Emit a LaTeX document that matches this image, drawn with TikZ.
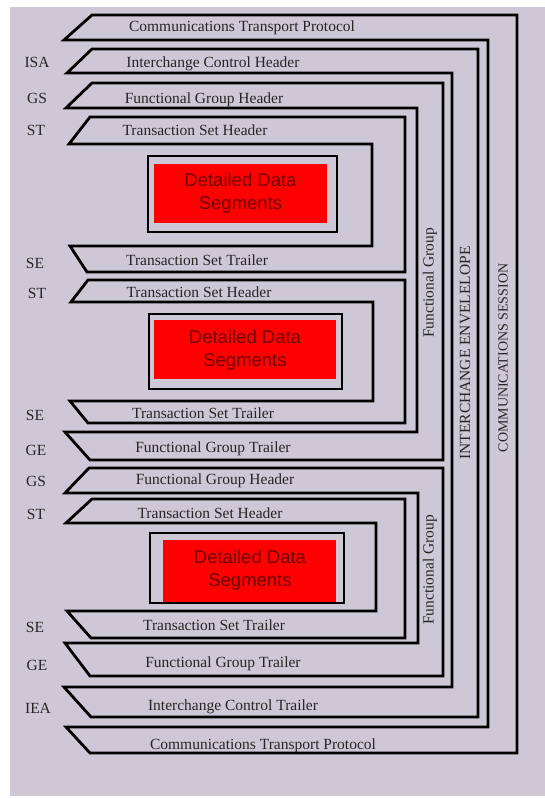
\documentclass[tikz,border=0pt]{standalone}
\usepackage{fontspec}
\setmainfont{Liberation Serif}
\newfontfamily\arialfont{Liberation Sans}
\usetikzlibrary{positioning}
\definecolor{bgcol}{RGB}{206,199,213}
\definecolor{segtext}{RGB}{110,0,0}

\begin{document}
\begin{tikzpicture}[x=1pt, y=-1pt,
	env/.style={draw=black, line width=2.8pt, line join=miter},
	tag/.style={font=\fontsize{15.5}{18}\selectfont, text=black!85, anchor=base, inner sep=0pt},
	vtag/.style={font=\fontsize{15.5}{18}\selectfont, text=black!85, rotate=90, inner sep=0pt},
	databox/.style={draw=black, line width=2.6pt},
	datatext/.style={font=\arialfont\fontsize{18.5}{23}\selectfont, text=segtext, align=center}]
	\useasboundingbox (0,0) rectangle (545,798);
	\fill[bgcol] (10,7) rectangle (545,796);

	% envelopes, outermost first
	\draw[env] (92,15) -- (517,15) -- (517,753) -- (90,753) -- (66,727) -- (488,727) -- (488,40) -- (64,40) -- cycle;
	\draw[env] (92,49) -- (478,49) -- (478,717) -- (91,717) -- (64,687) -- (452,687) -- (452,73) -- (67,73) -- cycle;
	\draw[env] (92,83) -- (443,83) -- (443,460) -- (90,460) -- (65,432) -- (417,432) -- (417,108) -- (66,108) -- cycle;
	\draw[env] (90,117) -- (405,117) -- (405,272) -- (87,272) -- (70,246) -- (372,246) -- (372,144) -- (69,144) -- cycle;
	\draw[env] (88,280) -- (405,280) -- (405,423) -- (88,423) -- (70,401) -- (373,401) -- (373,302) -- (71,302) -- cycle;
	\draw[env] (89,468) -- (443,468) -- (443,676) -- (90,676) -- (65,643) -- (418,643) -- (418,493) -- (65,493) -- cycle;
	\draw[env] (92,499) -- (405,499) -- (405,638) -- (91,638) -- (67,611) -- (376,611) -- (376,523) -- (66,523) -- cycle;

	% data segments
	\fill[red] (154,164) rectangle (327,223);
	\draw[databox] (148,156) rectangle (337,232);
	\node[datatext] (dds1) at (240.5,193.5) {Detailed Data\\Segments};
	\fill[red] (154,320) rectangle (336,379);
	\draw[databox] (149,314) rectangle (342,389);
	\node[datatext] (dds2) at (245,350) {Detailed Data\\Segments};
	\fill[red] (163,540) rectangle (336,602);
	\draw[databox] (150,533) rectangle (344,603);
	\node[datatext] (dds3) at (250,570) {Detailed Data\\Segments};

	% segment texts
	\node[tag] (ctph) at (242,31) {Communications Transport Protocol};
	\node[tag] (ich) at (213,67) {Interchange Control Header};
	\node[tag] (fgh1) at (204,103) {Functional Group Header};
	\node[tag] (tsh1) at (195,135) {Transaction Set Header};
	\node[tag] (tst1) at (197,265) {Transaction Set Trailer};
	\node[tag] (tsh2) at (199,297) {Transaction Set Header};
	\node[tag] (tst2) at (203,418) {Transaction Set Trailer};
	\node[tag] (fgt1) at (213,452) {Functional Group Trailer};
	\node[tag] (fgh2) at (215,484) {Functional Group Header};
	\node[tag] (tsh3) at (210,518) {Transaction Set Header};
	\node[tag] (tst3) at (214,630) {Transaction Set Trailer};
	\node[tag] (fgt2) at (223,667) {Functional Group Trailer};
	\node[tag] (ict) at (233,710) {Interchange Control Trailer};
	\node[tag] (ctpt) at (263,749) {Communications Transport Protocol};

	% segment ids
	\node[tag] (isa) at (37,67) {ISA};
	\node[tag] (gs1) at (37,103) {GS};
	\node[tag] (st1) at (36,135) {ST};
	\node[tag] (se1) at (35,268) {SE};
	\node[tag] (st2) at (37,298) {ST};
	\node[tag] (se2) at (35,420) {SE};
	\node[tag] (ge1) at (36,455) {GE};
	\node[tag] (gs2) at (36,486) {GS};
	\node[tag] (st3) at (36,519) {ST};
	\node[tag] (se3) at (35,632) {SE};
	\node[tag] (ge2) at (37,670) {GE};
	\node[tag] (iea) at (38,713) {IEA};

	% side titles
	\node[vtag] (fg1) at (430,283) {Functional Group};
	\node[vtag] (fg2) at (430,570) {Functional Group};
	\node[vtag] (env) at (465,353) {INTERCHANGE ENVELELOPE};
	\node[vtag, font=\fontsize{14}{17}\selectfont] (sess) at (503,358) {COMMUNICATIONS SESSION};
\end{tikzpicture}
\end{document}
